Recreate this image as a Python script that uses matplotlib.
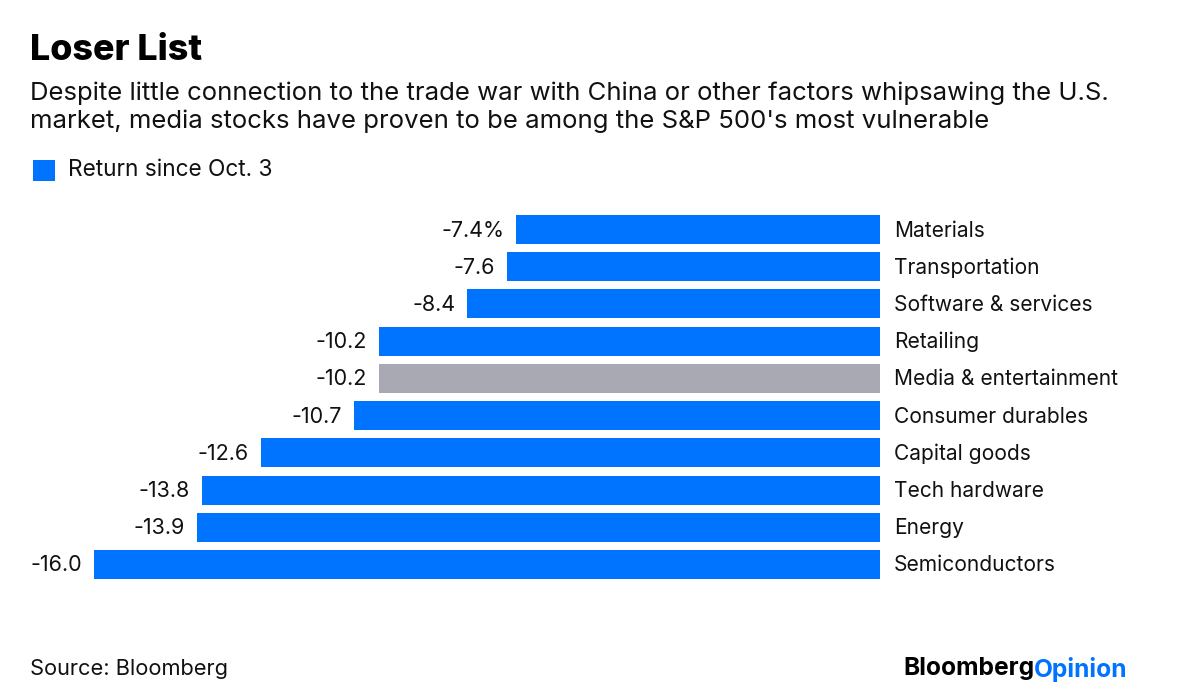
import matplotlib
matplotlib.use("Agg")
import matplotlib.pyplot as plt
from matplotlib.patches import Rectangle

categories = ["Materials", "Transportation", "Software & services", "Retailing",
              "Media & entertainment", "Consumer durables", "Capital goods",
              "Tech hardware", "Energy", "Semiconductors"]
values = [-7.4, -7.6, -8.4, -10.2, -10.2, -10.7, -12.6, -13.8, -13.9, -16.0]
value_labels = ["-7.4%", "-7.6", "-8.4", "-10.2", "-10.2", "-10.7", "-12.6", "-13.8", "-13.9", "-16.0"]
highlight = "Media & entertainment"

BLUE = "#0073ff"
GRAY = "#a9a9b3"
FONT = "Inter"

W, H = 1200, 697
fig = plt.figure(figsize=(W / 100, H / 100), dpi=100)
fig.patch.set_facecolor("white")

ax_left, ax_right = 94 / W, 880 / W
ax_top, ax_bot = 215, 579
ax = fig.add_axes([ax_left, (H - ax_bot) / H, ax_right - ax_left, (ax_bot - ax_top) / H])
bh = 0.78
ypos = list(range(len(categories)))
colors = [GRAY if c == highlight else BLUE for c in categories]
ax.barh(ypos, values, height=bh, color=colors, left=0)
ax.set_xlim(-16, 0)
ax.set_ylim(len(categories) - 1 + bh / 2, -bh / 2)
ax.axis("off")

for y, v, lab, cat in zip(ypos, values, value_labels, categories):
    ax.annotate(lab, xy=(v, y), xytext=(-12, -1), textcoords="offset pixels",
                ha="right", va="center", fontsize=15.5, family=FONT, color="#111111")
    ax.annotate(cat, xy=(0, y), xytext=(14, -1), textcoords="offset pixels",
                ha="left", va="center", fontsize=15.1, family=FONT, color="#111111")

def fy(px):
    return 1 - px / H

fig.text(30 / W, fy(50), "Loser List", fontsize=25.8, fontweight="heavy", family=FONT,
         ha="left", va="center", color="#000000")
fig.text(30 / W, fy(93), "Despite little connection to the trade war with China or other factors whipsawing the U.S.",
         fontsize=18.5, family=FONT, ha="left", va="center", color="#111111")
fig.text(30 / W, fy(121), "market, media stocks have proven to be among the S&P 500's most vulnerable",
         fontsize=18.5, family=FONT, ha="left", va="center", color="#111111")

fig.patches.append(Rectangle((33 / W, fy(181)), 22 / W, 21 / H, transform=fig.transFigure,
                             facecolor=BLUE, edgecolor="none"))
fig.text(68 / W, fy(170), "Return since Oct. 3", fontsize=16.3, family=FONT,
         ha="left", va="center", color="#111111")

fig.text(30 / W, fy(669), "Source: Bloomberg", fontsize=15.7, family=FONT,
         ha="left", va="center", color="#111111")

t1 = fig.text(903 / W, fy(669), "Bloomberg", fontsize=17.7, fontweight="bold", family=FONT,
              ha="left", va="center", color="#000000")
fig.canvas.draw()
bb = t1.get_window_extent()
fig.text(bb.x1 / W, fy(669), "Opinion", fontsize=17.7, fontweight="bold", family=FONT,
         ha="left", va="center", color=BLUE)

fig.savefig("out.png", dpi=100, facecolor="white")
